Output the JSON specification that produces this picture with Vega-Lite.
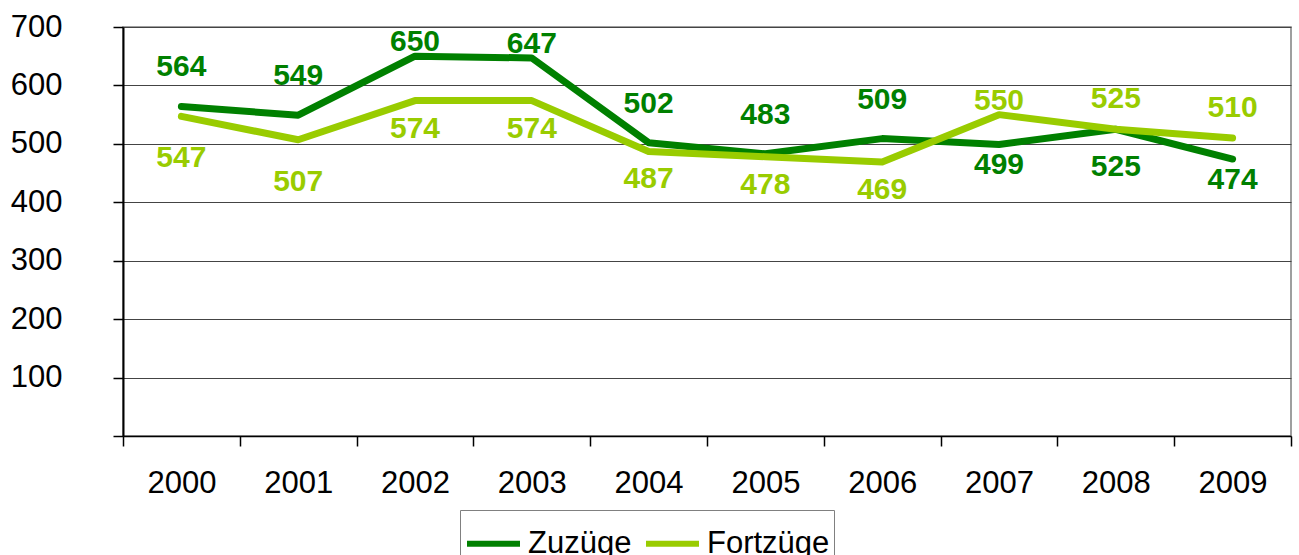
{
  "$schema": "https://vega.github.io/schema/vega-lite/v6.json",
  "width": 1168,
  "height": 409,
  "autosize": "none",
  "padding": {"left": 123, "top": 27, "right": 8, "bottom": 119},
  "background": "white",
  "config": {
    "font": "Liberation Sans",
    "view": {"stroke": "#808080", "strokeWidth": 1.5},
    "axis": {"labelFont": "Liberation Sans", "labelColor": "#000", "labelFontSize": 31, "domainColor": "#000", "tickColor": "#000"}
  },
  "data": {
    "values": [
      {"year": "2000", "series": "Zuzüge", "value": 564},
      {"year": "2001", "series": "Zuzüge", "value": 549},
      {"year": "2002", "series": "Zuzüge", "value": 650},
      {"year": "2003", "series": "Zuzüge", "value": 647},
      {"year": "2004", "series": "Zuzüge", "value": 502},
      {"year": "2005", "series": "Zuzüge", "value": 483},
      {"year": "2006", "series": "Zuzüge", "value": 509},
      {"year": "2007", "series": "Zuzüge", "value": 499},
      {"year": "2008", "series": "Zuzüge", "value": 525},
      {"year": "2009", "series": "Zuzüge", "value": 474},
      {"year": "2000", "series": "Fortzüge", "value": 547},
      {"year": "2001", "series": "Fortzüge", "value": 507},
      {"year": "2002", "series": "Fortzüge", "value": 574},
      {"year": "2003", "series": "Fortzüge", "value": 574},
      {"year": "2004", "series": "Fortzüge", "value": 487},
      {"year": "2005", "series": "Fortzüge", "value": 478},
      {"year": "2006", "series": "Fortzüge", "value": 469},
      {"year": "2007", "series": "Fortzüge", "value": 550},
      {"year": "2008", "series": "Fortzüge", "value": 525},
      {"year": "2009", "series": "Fortzüge", "value": 510}
    ]
  },
  "encoding": {
    "x": {
      "field": "year", "type": "ordinal",
      "scale": {"paddingInner": 0, "paddingOuter": 0},
      "axis": {"title": null, "labelAngle": 0, "tickBand": "extent", "tickSize": 10, "tickWidth": 1.5, "domainWidth": 1.5, "labelPadding": 22, "labelBaseline": "top"}
    },
    "y": {
      "field": "value", "type": "quantitative",
      "scale": {"domain": [0, 700], "nice": false},
      "axis": {"title": null, "values": [0, 100, 200, 300, 400, 500, 600, 700], "labelExpr": "datum.value == 0 ? '' : datum.label", "tickSize": 10, "tickWidth": 1.5, "domainWidth": 2, "labelPadding": 51, "grid": true, "gridColor": "#444", "gridWidth": 1}
    }
  },
  "layer": [
    {
      "transform": [{"filter": "datum.series == 'Zuzüge'"}],
      "mark": {"type": "line", "strokeWidth": 7, "strokeCap": "round", "strokeJoin": "round"},
      "encoding": {
        "color": {"field": "series", "type": "nominal", "scale": {"domain": ["Zuzüge", "Fortzüge"], "range": ["#008000", "#99CC00"]},
          "legend": {"title": null, "orient": "none", "legendX": 337, "legendY": 483, "direction": "horizontal", "symbolType": "stroke", "symbolSize": 2809, "symbolStrokeWidth": 6, "labelFontSize": 31, "labelFont": "Liberation Sans", "labelColor": "#000", "labelBaseline": "middle", "strokeColor": "#808080", "padding": 4, "columnPadding": 2, "labelOffset": 5, "fillColor": "white"}}
      }
    },
    {
      "transform": [{"filter": "datum.series == 'Fortzüge'"}],
      "mark": {"type": "line", "strokeWidth": 7, "strokeCap": "round", "strokeJoin": "round"},
      "encoding": {"color": {"field": "series", "type": "nominal"}}
    },
    {
      "transform": [{"filter": "datum.series == 'Zuzüge' && indexof(['2000','2001','2004','2005','2006'], datum.year) >= 0"}],
      "mark": {"type": "text", "fontSize": 30, "fontWeight": "bold", "dy": -39, "baseline": "middle", "color": "#008000"},
      "encoding": {"text": {"field": "value"}}
    },
    {
      "transform": [{"filter": "datum.series == 'Zuzüge' && indexof(['2002','2003'], datum.year) >= 0"}],
      "mark": {"type": "text", "fontSize": 30, "fontWeight": "bold", "dy": -14, "baseline": "middle", "color": "#008000"},
      "encoding": {"text": {"field": "value"}}
    },
    {
      "transform": [{"filter": "datum.series == 'Zuzüge' && indexof(['2007','2009'], datum.year) >= 0"}],
      "mark": {"type": "text", "fontSize": 30, "fontWeight": "bold", "dy": 21, "baseline": "middle", "color": "#008000"},
      "encoding": {"text": {"field": "value"}}
    },
    {
      "transform": [{"filter": "datum.series == 'Zuzüge' && datum.year == '2008'"}],
      "mark": {"type": "text", "fontSize": 30, "fontWeight": "bold", "dy": 38, "baseline": "middle", "color": "#008000"},
      "encoding": {"text": {"field": "value"}}
    },
    {
      "transform": [{"filter": "datum.series == 'Fortzüge' && indexof(['2000','2001'], datum.year) >= 0"}],
      "mark": {"type": "text", "fontSize": 30, "fontWeight": "bold", "dy": 42, "baseline": "middle", "color": "#99CC00"},
      "encoding": {"text": {"field": "value"}}
    },
    {
      "transform": [{"filter": "datum.series == 'Fortzüge' && indexof(['2002','2003','2004','2005','2006'], datum.year) >= 0"}],
      "mark": {"type": "text", "fontSize": 30, "fontWeight": "bold", "dy": 28, "baseline": "middle", "color": "#99CC00"},
      "encoding": {"text": {"field": "value"}}
    },
    {
      "transform": [{"filter": "datum.series == 'Fortzüge' && datum.year == '2007'"}],
      "mark": {"type": "text", "fontSize": 30, "fontWeight": "bold", "dy": -14, "baseline": "middle", "color": "#99CC00"},
      "encoding": {"text": {"field": "value"}}
    },
    {
      "transform": [{"filter": "datum.series == 'Fortzüge' && indexof(['2008','2009'], datum.year) >= 0"}],
      "mark": {"type": "text", "fontSize": 30, "fontWeight": "bold", "dy": -30, "baseline": "middle", "color": "#99CC00"},
      "encoding": {"text": {"field": "value"}}
    }
  ]
}
